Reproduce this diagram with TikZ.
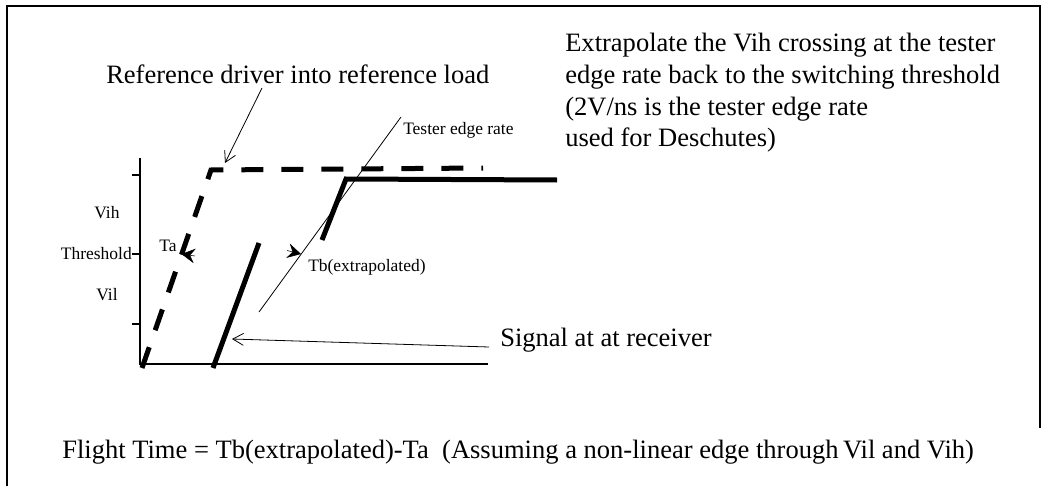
\documentclass[tikz,border=0pt]{standalone}
\usepackage{fontspec}
\setmainfont{Liberation Serif}
\usetikzlibrary{arrows.meta,positioning}
\newcommand{\bigsz}{\fontsize{19.9pt}{23.7pt}\selectfont}
\newcommand{\smallsz}{\fontsize{13.1pt}{15pt}\selectfont}
\tikzset{
  frame/.style={line width=1.5pt,draw=black},
  axis/.style={line width=0.9pt,draw=black},
  wave/.style={line width=3.75pt,draw=black},
  refwave/.style={wave,dash pattern=on 16.5pt off 13.5pt},
  thinln/.style={line width=0.6pt,draw=black},
  ptr/.style={-{Straight Barb[length=8pt,width=9pt]},line width=0.6pt,draw=black},
  tmark/.style={-{Stealth[length=10pt,width=11pt,inset=3.5pt]},line width=0.4pt,draw=black},
  big/.style={font=\bigsz,inner sep=0pt,align=left},
  small/.style={font=\smallsz,inner sep=0pt},
}
\begin{document}
\begin{tikzpicture}[x=0.75pt,y=-0.75pt]
\useasboundingbox (0,0) rectangle (1052,485);
% frame
\draw[frame] (7,490) -- (7,6) -- (1040,6) -- (1040,428);
% axes and ticks
\coordinate (org) at (140,364);
\coordinate (ytop) at (140,158);
\coordinate (xend) at (488,364);
\draw[axis] (ytop) -- (org) -- (xend);
\foreach \y/\nm in {175/hi,254/th,324/lo}
  \draw[axis] (132,\y) coordinate (tick\nm) -- (140,\y);
\node[small,anchor=east] (thlbl) at (tickth) {Threshold};
\node[small] (vih) at (107,213) {Vih};
\node[small] (vil) at (107,295) {Vil};
% reference driver (dashed) and receiver signal
\draw[refwave] (142,368) coordinate (r0) -- (211,170) coordinate (r1) -- (483,168) coordinate (r2);
\draw[wave] (213,368) coordinate (s0) -- (259,243) coordinate (s1);
\draw[wave] (322,240) coordinate (s2) -- (346,179) coordinate (s3) -- (557,180) coordinate (s4);
% tester edge rate
\coordinate (e0) at (259,312);
\coordinate (e1) at (401,117);
\draw[thinln] (e0) -- (e1);
\node[small,anchor=west] (tester) at (403,130) {Tester edge rate};
% crossing marks
\node[small] (ta) at (168,246) {Ta};
\coordinate (taX) at (181.5,254);
\draw[tmark] (195,256) -- (taX);
\coordinate (tbX) at (301,254);
\draw[tmark] (287,250.5) -- (tbX);
\node[small,anchor=west] (tb) at (308,267) {Tb(extrapolated)};
% callouts
\node[big,anchor=west] (reftxt) at (106,74) {Reference driver into reference load};
\coordinate (refA) at (262,88);
\coordinate (refB) at (225,163);
\draw[ptr] (refA) -- (refB);
\node[big,anchor=west] (sigtxt) at (500,340) {Signal at at receiver};
\coordinate (sigA) at (489,347);
\coordinate (sigB) at (232,339);
\draw[ptr] (sigA) -- (sigB);
\node[big,anchor=west] (note) at (565,93) {Extrapolate the Vih crossing at the tester\\edge rate back to the switching threshold\\(2V/ns is the tester edge rate\\used for Deschutes)};
\node[big,anchor=west] (flight) at (62,452) {Flight Time = Tb(extrapolated)-Ta\ \ (Assuming a non-linear edge through\,Vil and Vih)};
\end{tikzpicture}
\end{document}
